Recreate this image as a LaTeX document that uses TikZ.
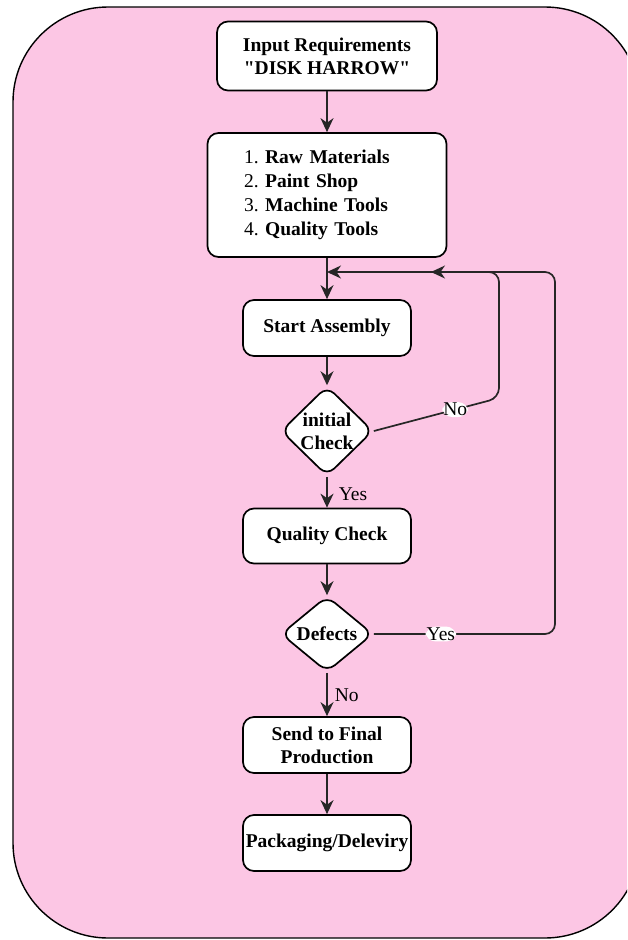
\documentclass[tikz,border=0pt]{standalone}
\usepackage{fontspec}
\setmainfont{Liberation Serif}[Ligatures=TeXOff]
\usetikzlibrary{arrows.meta,shapes.geometric}
\definecolor{bgpink}{RGB}{252,198,228}
\frenchspacing
\tikzset{
  box/.style={draw=black,fill=white,rounded corners=11pt,line width=1.7pt,
    align=center,font=\fontsize{19.5}{23}\selectfont\bfseries,inner sep=2pt},
  decision/.style={draw=black,fill=white,diamond,rounded corners=10pt,line width=1.7pt,
    align=center,font=\fontsize{19.5}{23}\selectfont\bfseries,inner sep=0pt},
  line/.style={line width=1.7pt,draw=black!85},
  arr/.style={line,-{Stealth[length=14pt,width=13pt,inset=4.5pt]}},
  lbl/.style={font=\fontsize{19.5}{23}\selectfont,inner sep=1pt},
  onlbl/.style={lbl,fill=white}
}
\begin{document}
\begin{tikzpicture}[x=1pt,y=-1pt]
  \useasboundingbox (0,0) rectangle (627,940);
  \clip (0,0) rectangle (627,940);
%%
  % Background
  \draw [fill=bgpink,line width=1.4pt,rounded corners=95pt] (13,7) rectangle (640,938);
  % Node: Input
  \node [box,minimum width=220pt,minimum height=69pt] (input) at (327,56) {Input Requirements\\"DISK HARROW"};
  % Node: Materials
  \node [box,minimum width=239pt,minimum height=124pt,text width=166pt,align=left,
    font=\fontsize{19.5}{24}\selectfont] (materials) at (327,195)
    {1. \textbf{Raw Materials}\\2. \textbf{Paint Shop}\\3. \textbf{Machine Tools}\\4. \textbf{Quality Tools}};
  % Node: Assembly
  \node [box,minimum width=168pt,minimum height=56pt] (assembly) at (327,328) {Start Assembly};
  % Node: Initial
  \node [decision,minimum width=92pt,minimum height=88pt] (initial) at (327,431) {initial\\Check};
  % Node: Quality
  \node [box,minimum width=168pt,minimum height=55pt] (quality) at (327,536) {Quality Check};
  % Node: Defects
  \node [decision,minimum width=92pt,minimum height=76pt] (defects) at (327,634) {Defects};
  % Node: Send
  \node [box,minimum width=168pt,minimum height=56pt] (send) at (327,745) {Send to Final\\Production};
  % Node: Packaging
  \node [box,minimum width=168pt,minimum height=56pt] (packaging) at (327,843) {Packaging/Deleviry};
%%
  \coordinate (merge) at (327,272);
  \coordinate (noturn) at (499,398);
  \coordinate (yesturn) at (555,634);
  \coordinate (yesend) at (431,272);
  % Edge: Input -> Materials
  \draw [arr] (input) -- (materials);
  % Edge: Materials -> Assembly
  \draw [arr] (materials) -- (merge) -- (assembly);
  % Edge: Assembly -> Initial
  \draw [arr] (assembly) -- (initial);
  % Edge: Initial -> Quality
  \draw [arr] (initial) -- node [lbl,anchor=west,xshift=10pt,yshift=-2pt] {Yes} (quality);
  % Edge: Initial -> Assembly (No)
  \draw [arr,rounded corners=10pt] (initial.east) -- node [onlbl,pos=0.65] {No} (noturn) |- (merge);
  % Edge: Quality -> Defects
  \draw [arr] (quality) -- (defects);
  % Edge: Defects -> Assembly (Yes)
  \draw [arr,rounded corners=10pt] (defects.east) -- node [onlbl,pos=0.37] {Yes} (yesturn) |- (yesend);
  % Edge: Defects -> Send
  \draw [arr] (defects) -- node [lbl,anchor=west,xshift=6pt,yshift=-1pt] {No} (send);
  % Edge: Send -> Packaging
  \draw [arr] (send) -- (packaging);
%
\end{tikzpicture}
\end{document}
